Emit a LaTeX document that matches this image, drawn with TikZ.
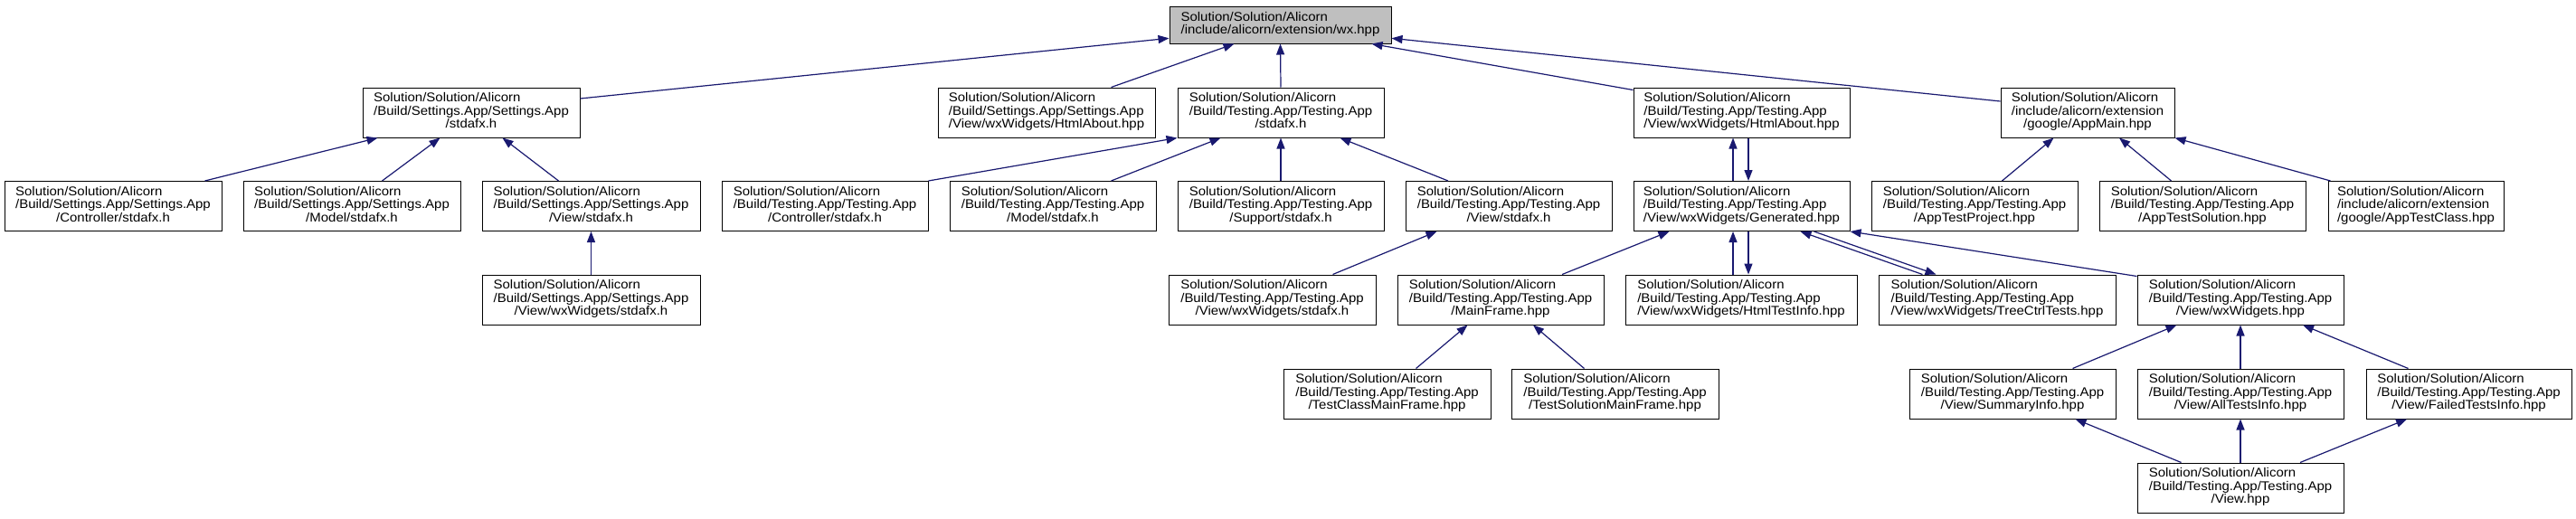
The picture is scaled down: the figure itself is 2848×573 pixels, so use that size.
\documentclass[tikz,border=0pt]{standalone}
\usepackage{fontspec}
\setmainfont{Liberation Sans}[FakeStretch=1.07]
\usetikzlibrary{arrows.meta}
\definecolor{edgecol}{HTML}{191970}
\definecolor{topfill}{HTML}{BFBFBF}
\newcommand{\lblthree}[3]{\begin{tabular}{@{}l@{}}#1\\#2\\\multicolumn{1}{@{}c@{}}{#3}\end{tabular}}
\newcommand{\SSA}{Solution/Solution/Alicorn}
\newcommand{\BSS}{/Build/Settings.App/Settings.App}
\newcommand{\BTT}{/Build/Testing.App/Testing.App}
\begin{document}
\begin{tikzpicture}[x=1pt,y=-1pt,
  box/.style={draw=black, line width=1pt, fill=white, inner sep=0pt,
    font=\fontsize{14}{14.5}\selectfont, minimum height=55pt},
  edge/.style={draw=edgecol, line width=1.2pt, -{Triangle[length=12pt,width=9pt]}}]
\useasboundingbox (0,0) rectangle (2848,573);
\fill[white] (0,0) rectangle (2848,573);
% row 1
\node[box, fill=topfill, minimum width=245pt, minimum height=41pt] (top) at (1415.5,27.5)
  {\begin{tabular}{@{}l@{}}\SSA\\/include/alicorn/extension/wx.hpp\end{tabular}};
% row 2
\node[box, minimum width=240pt] (ss) at (521,124.5) {\lblthree{\SSA}{\BSS}{/stdafx.h}};
\node[box, minimum width=240pt] (sshtml) at (1157,124.5) {\lblthree{\SSA}{\BSS}{/View/wxWidgets/HtmlAbout.hpp}};
\node[box, minimum width=228pt] (ts) at (1416,124.5) {\lblthree{\SSA}{\BTT}{/stdafx.h}};
\node[box, minimum width=239pt] (th) at (1925.5,124.5) {\lblthree{\SSA}{\BTT}{/View/wxWidgets/HtmlAbout.hpp}};
\node[box, minimum width=192pt] (appmain) at (2308,124.5) {\lblthree{\SSA}{/include/alicorn/extension}{/google/AppMain.hpp}};
% row 3
\node[box, minimum width=240pt] (ssctrl) at (125,228) {\lblthree{\SSA}{\BSS}{/Controller/stdafx.h}};
\node[box, minimum width=240pt] (ssmodel) at (389,228) {\lblthree{\SSA}{\BSS}{/Model/stdafx.h}};
\node[box, minimum width=241pt] (ssview) at (653.5,228) {\lblthree{\SSA}{\BSS}{/View/stdafx.h}};
\node[box, minimum width=228pt] (tsctrl) at (912,228) {\lblthree{\SSA}{\BTT}{/Controller/stdafx.h}};
\node[box, minimum width=228pt] (tsmodel) at (1164,228) {\lblthree{\SSA}{\BTT}{/Model/stdafx.h}};
\node[box, minimum width=228pt] (tssupport) at (1416,228) {\lblthree{\SSA}{\BTT}{/Support/stdafx.h}};
\node[box, minimum width=228pt] (tsview) at (1668,228) {\lblthree{\SSA}{\BTT}{/View/stdafx.h}};
\node[box, minimum width=239pt] (gen) at (1925.5,228) {\lblthree{\SSA}{\BTT}{/View/wxWidgets/Generated.hpp}};
\node[box, minimum width=228pt] (atp) at (2183,228) {\lblthree{\SSA}{\BTT}{/AppTestProject.hpp}};
\node[box, minimum width=228pt] (ats) at (2435,228) {\lblthree{\SSA}{\BTT}{/AppTestSolution.hpp}};
\node[box, minimum width=194pt] (atc) at (2671,228) {\lblthree{\SSA}{/include/alicorn/extension}{/google/AppTestClass.hpp}};
% row 4
\node[box, minimum width=241pt] (ssviewwx) at (653.5,331.5) {\lblthree{\SSA}{\BSS}{/View/wxWidgets/stdafx.h}};
\node[box, minimum width=229pt] (tvwx) at (1406.5,331.5) {\lblthree{\SSA}{\BTT}{/View/wxWidgets/stdafx.h}};
\node[box, minimum width=228pt] (mf) at (1659,331.5) {\lblthree{\SSA}{\BTT}{/MainFrame.hpp}};
\node[box, minimum width=256pt] (hti) at (1925,331.5) {\lblthree{\SSA}{\BTT}{/View/wxWidgets/HtmlTestInfo.hpp}};
\node[box, minimum width=262pt] (tct) at (2208,331.5) {\lblthree{\SSA}{\BTT}{/View/wxWidgets/TreeCtrlTests.hpp}};
\node[box, minimum width=228pt] (wxw) at (2477,331.5) {\lblthree{\SSA}{\BTT}{/View/wxWidgets.hpp}};
% row 5
\node[box, minimum width=229pt] (tcmf) at (1533.5,435.5) {\lblthree{\SSA}{\BTT}{/TestClassMainFrame.hpp}};
\node[box, minimum width=229pt] (tsmf) at (1785.5,435.5) {\lblthree{\SSA}{\BTT}{/TestSolutionMainFrame.hpp}};
\node[box, minimum width=228pt] (sum) at (2225,435.5) {\lblthree{\SSA}{\BTT}{/View/SummaryInfo.hpp}};
\node[box, minimum width=228pt] (all) at (2477,435.5) {\lblthree{\SSA}{\BTT}{/View/AllTestsInfo.hpp}};
\node[box, minimum width=227pt] (fail) at (2729.5,435.5) {\lblthree{\SSA}{\BTT}{/View/FailedTestsInfo.hpp}};
% row 6
\node[box, minimum width=228pt] (view) at (2477,539.5) {\lblthree{\SSA}{\BTT}{/View.hpp}};
% edges to top
\draw[edge] ([yshift=15.5pt]ss.east) -- ([yshift=-14.8pt]top.west);
\draw[edge] ([xshift=192pt]sshtml.north west) -- ([xshift=72pt]top.south west);
\draw[edge] (ts.north) -- (top.south);
\draw[edge] ([yshift=-3pt]th.north west) -- ([xshift=224pt]top.south west);
\draw[edge] ([yshift=12.5pt]appmain.west) -- ([yshift=-14.8pt]top.east);
% settings
\draw[edge] ([xshift=222pt]ssctrl.north west) -- ([xshift=17pt]ss.south west);
\draw[edge] ([xshift=154pt]ssmodel.north west) -- ([xshift=86pt]ss.south west);
\draw[edge] ([xshift=85pt]ssview.north west) -- ([xshift=155pt]ss.south west);
\draw[edge] (ssviewwx.north) -- (ssview.south);
% testing stdafx
\draw[edge] (tsctrl.north east) -- (ts.south west);
\draw[edge] ([xshift=179pt]tsmodel.north west) -- ([xshift=48pt]ts.south west);
\draw[edge] (tssupport.north) -- (ts.south);
\draw[edge] ([xshift=47.5pt]tsview.north west) -- ([xshift=180pt]ts.south west);
\draw[edge] ([xshift=182pt]tvwx.north west) -- ([xshift=35pt]tsview.south west);
% generated
\draw[edge] ([xshift=182.6pt]mf.north west) -- ([xshift=40pt]gen.south west);
\draw[edge] ([xshift=-9.5pt]gen.north) -- ([xshift=-9.5pt]th.south);
\draw[edge] ([xshift=7.5pt]th.south) -- ([xshift=7.5pt]gen.north);
\draw[edge] ([xshift=-9pt]hti.north) -- ([xshift=-9.5pt]gen.south);
\draw[edge] ([xshift=7.5pt]gen.south) -- ([xshift=8pt]hti.north);
\draw[edge] ([xshift=49pt]tct.north west) -- ([xshift=185pt]gen.south west);
\draw[edge] ([xshift=200pt]gen.south west) -- ([xshift=64pt]tct.north west);
\draw[edge] ([yshift=-2pt]wxw.north west) -- (gen.south east);
% mainframe
\draw[edge] ([xshift=147pt]tcmf.north west) -- ([xshift=78pt]mf.south west);
\draw[edge] ([xshift=81pt]tsmf.north west) -- ([xshift=150.5pt]mf.south west);
% wxwidgets
\draw[edge] ([xshift=181pt]sum.north west) -- ([xshift=44pt]wxw.south west);
\draw[edge] (all.north) -- (wxw.south);
\draw[edge] ([xshift=47pt]fail.north west) -- ([xshift=183.5pt]wxw.south west);
\draw[edge] ([xshift=49pt]view.north west) -- ([xshift=184pt]sum.south west);
\draw[edge] (view.north) -- (all.south);
\draw[edge] ([xshift=180.5pt]view.north west) -- ([xshift=45.6pt]fail.south west);
% appmain
\draw[edge] ([xshift=145pt]atp.north west) -- ([xshift=59pt]appmain.south west);
\draw[edge] ([xshift=80pt]ats.north west) -- ([xshift=131.5pt]appmain.south west);
\draw[edge] ([xshift=3pt]atc.north west) -- (appmain.south east);
\end{tikzpicture}
\end{document}
